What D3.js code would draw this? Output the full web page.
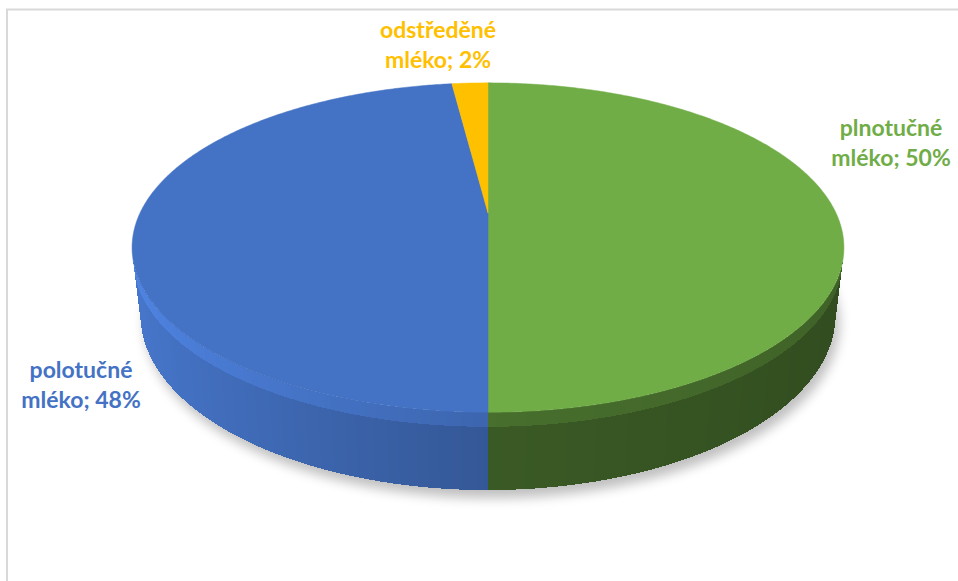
<!DOCTYPE html>
<html>
<head>
<meta charset="utf-8">
<script src="https://cdn.jsdelivr.net/npm/d3@7"></script>
<style>
  body { margin: 0; background: #fff; }
  svg { display: block; }
</style>
</head>
<body>
<script>
// Milk consumption share by type
const categories = ["plnotučné mléko", "polotučné mléko", "odstředěné mléko"];
const values = [50, 48, 2];
const colors = ["#70AD47", "#4472C4", "#FFC000"];

const W = 958, H = 581;
const svg = d3.select("body").append("svg").attr("width", W).attr("height", H);

// chart frame
svg.append("rect")
  .attr("x", 7).attr("y", 9.5).attr("width", 1000).attr("height", 1000)
  .attr("fill", "none").attr("stroke", "#d9d9d9").attr("stroke-width", 2);

// perspective projection of a unit-radius disc tilted toward the viewer
const cx = 488, cy = 213, focal = 1479, dist = 4.25;
const tilt = 26.9 * Math.PI / 180, thick = 0.219, rim = 0.04;
function proj(theta, r, y) {
  const x = r * Math.sin(theta), z = r * Math.cos(theta);
  const yc = y * Math.cos(tilt) + z * Math.sin(tilt);
  const zc = -y * Math.sin(tilt) + z * Math.cos(tilt);
  return [cx + focal * x / (dist + zc), cy - focal * yc / (dist + zc)];
}
const line = d3.line();
const TAU = Math.PI * 2;
const step = Math.PI / 360;

const pie = d3.pie().sort(null).startAngle(0).endAngle(TAU).value(d => d);
const arcs = pie(values);

const defs = svg.append("defs");
defs.append("filter").attr("id", "shadowBlur")
  .attr("x", "-20%").attr("y", "-20%").attr("width", "140%").attr("height", "140%")
  .append("feGaussianBlur").attr("stdDeviation", 6);

// soft drop shadow under the disc
const ring = d3.range(0, 361, 2).map(a => proj(a * Math.PI / 180, 1, -thick));
svg.append("path")
  .attr("d", line(ring) + "Z")
  .attr("transform", "translate(4,8)")
  .attr("fill", "#000").attr("opacity", 0.25)
  .attr("filter", "url(#shadowBlur)");

// wall brightness: the left half is lit, the right half is in shade
function shadeFactor(theta) {
  const s = Math.sin(theta);
  return s > 1e-9 ? 0.52 - 0.08 * s : 0.77 - 0.28 * s;
}
function shade(col, k) {
  const c = d3.rgb(col);
  return d3.rgb(Math.min(255, c.r * k), Math.min(255, c.g * k), Math.min(255, c.b * k)).formatHex();
}

// visible part of the outer wall (faces the camera)
const cut = Math.acos(-1 / (dist * Math.cos(tilt)));
const visLo = cut, visHi = TAU - cut;

// wall drawn as thin slightly-overlapping strips so the shading varies smoothly
const walls = svg.append("g").attr("shape-rendering", "crispEdges");
arcs.forEach((a, i) => {
  const t0 = Math.max(a.startAngle, visLo), t1 = Math.min(a.endAngle, visHi);
  if (t1 <= t0) return;
  const n = Math.max(1, Math.ceil((t1 - t0) / step));
  const dt = (t1 - t0) / n;
  for (let j = 0; j < n; j++) {
    const s0 = t0 + j * dt, s1 = Math.min(t1, s0 + dt * 1.8);
    const tm = s0 + dt / 2;
    [[0, -rim, 0.12], [-rim, -thick, 0]].forEach(([y0, y1, boost]) => {
      const pts = [proj(s0, 1, y0), proj(s1, 1, y0), proj(s1, 1, y1), proj(s0, 1, y1)];
      walls.append("path").attr("d", line(pts) + "Z")
        .attr("fill", shade(colors[i], shadeFactor(tm) + boost));
    });
  }
});

// top faces of the slices
svg.append("g").selectAll("path").data(arcs).join("path")
  .attr("d", a => {
    const n = Math.max(2, Math.ceil((a.endAngle - a.startAngle) / step));
    const pts = [proj(0, 0, 0)];
    for (let j = 0; j <= n; j++) {
      pts.push(proj(a.startAngle + (a.endAngle - a.startAngle) * j / n, 1, 0));
    }
    return line(pts) + "Z";
  })
  .attr("fill", (a, i) => colors[i])
  .attr("stroke", (a, i) => colors[i]).attr("stroke-width", 0.5);

// data labels: name on the first line, "mléko; NN%" on the second
const labelPos = [[891, 136], [81, 378], [438, 38]];
const lineGap = 30;
const labels = svg.append("g")
  .attr("font-family", "Lato, 'Open Sans', sans-serif")
  .attr("font-weight", "bold")
  .attr("text-anchor", "middle");
arcs.forEach((a, i) => {
  const words = categories[i].split(" ");
  const txt = labels.append("text")
    .attr("x", labelPos[i][0]).attr("y", labelPos[i][1])
    .attr("fill", colors[i]).attr("font-size", 23);
  txt.append("tspan").attr("x", labelPos[i][0]).text(words[0]);
  txt.append("tspan").attr("x", labelPos[i][0]).attr("dy", lineGap)
    .text(`${words.slice(1).join(" ")}; ${values[i]}%`);
});
</script>
</body>
</html>
